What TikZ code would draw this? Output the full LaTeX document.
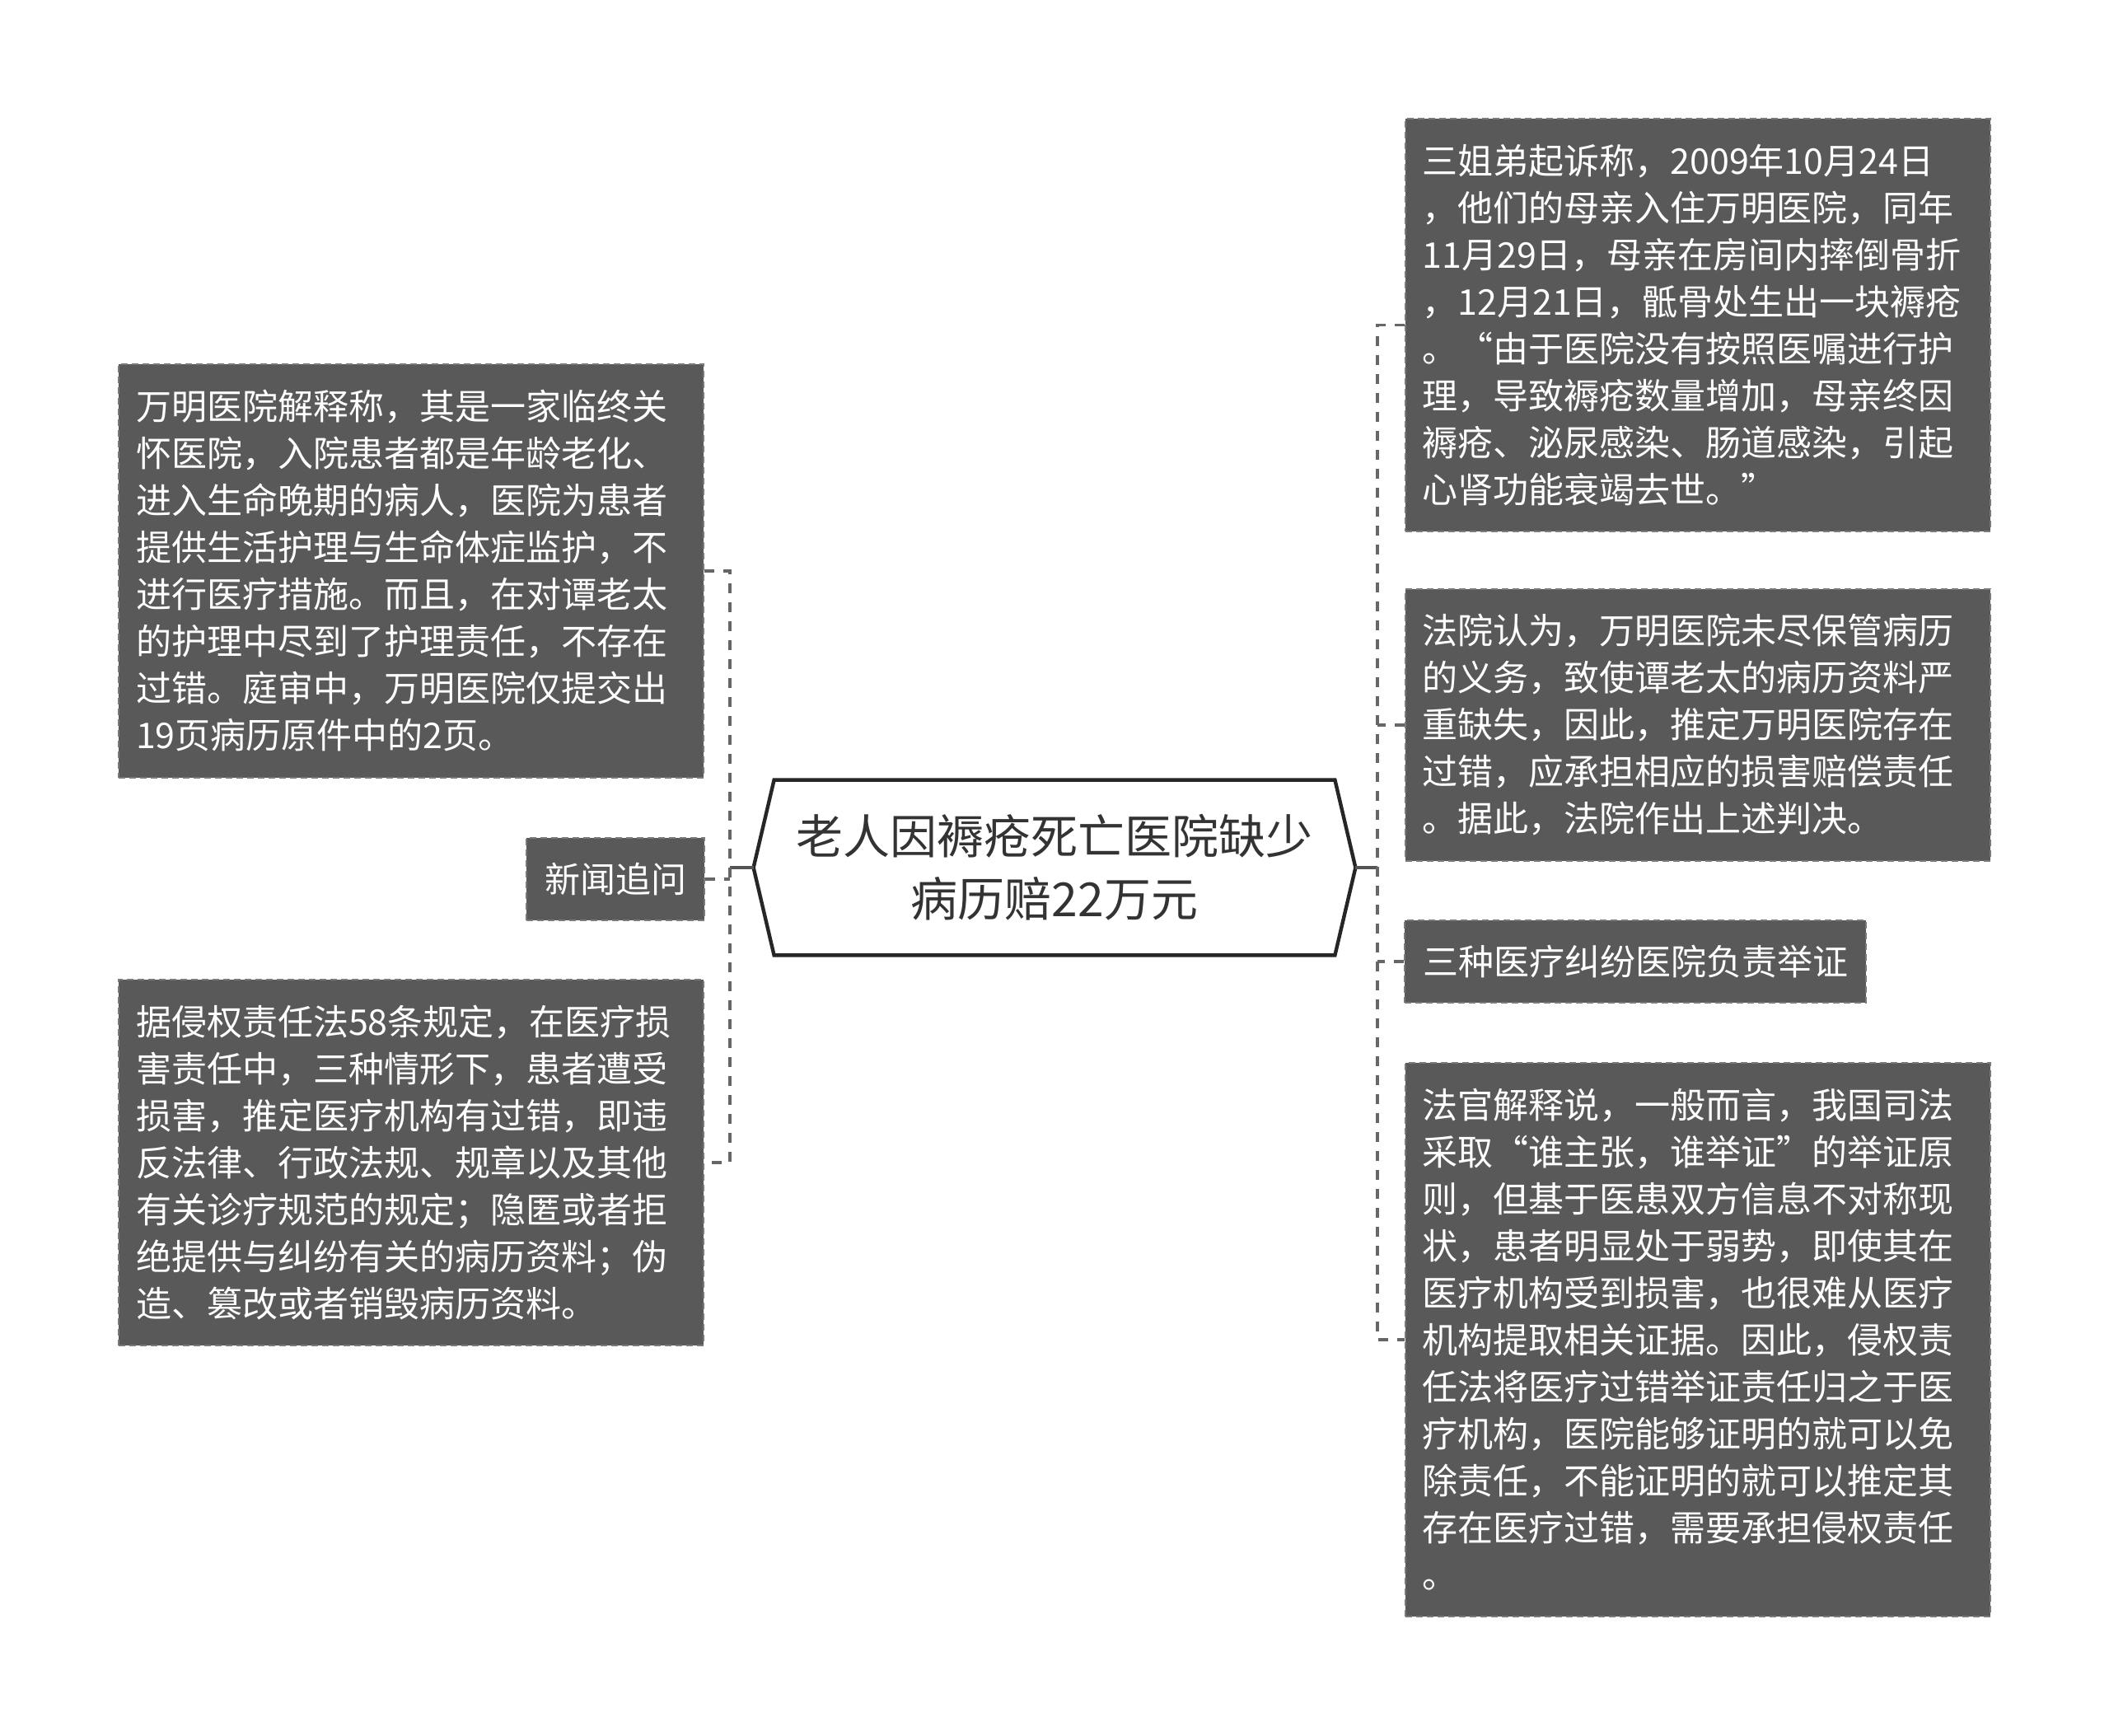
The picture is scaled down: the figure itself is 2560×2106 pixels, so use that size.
\documentclass[tikz,border=0pt]{standalone}
\usepackage{fontspec}
\setmainfont{Noto Sans CJK SC}
\newfontfamily\cjkfw[RawFeature=+fwid]{Noto Sans CJK SC}
\newcommand{\qL}{{\cjkfw “}}
\newcommand{\qR}{{\cjkfw ”}}
\definecolor{boxfill}{HTML}{595959}
\definecolor{boxborder}{HTML}{7A7A7A}
\definecolor{connc}{HTML}{666666}
\definecolor{rootc}{HTML}{555555}
\definecolor{hexc}{HTML}{262626}
\definecolor{titlec}{HTML}{333333}
\begin{document}
\begin{tikzpicture}[x=0.5pt,y=-0.5pt,
  leaf/.style={fill=boxfill, draw=boxborder, line width=1pt, dash pattern=on 4pt off 2.5pt,
    text=white, font=\fontsize{21.5pt}{28.5pt}\selectfont, inner sep=10.5pt},
  bigleaf/.style={leaf, minimum width=355pt, text width=334pt, align=left},
  conn/.style={draw=connc, line width=1.6pt, dash pattern=on 6pt off 5.5pt},
  rootln/.style={draw=rootc, line width=1.6pt},
]
\fill[white] (0,0) rectangle (2560,2106);
\useasboundingbox (0,0) rectangle (2560,2106);

% root
\node[font=\fontsize{28.5pt}{38pt}\selectfont, text=titlec, align=center,
      minimum width=365pt, minimum height=106pt, inner sep=0pt] (root) at (1280,1053)
  {老人因褥疮死亡医院缺少\\病历赔22万元};
\draw[line width=2.2pt, draw=hexc, line join=miter]
  (root.west) -- ([xshift=12.5pt]root.north west) -- ([xshift=-12.5pt]root.north east)
  -- (root.east) -- ([xshift=-12.5pt]root.south east) -- ([xshift=12.5pt]root.south west) -- cycle;

% left children
\node[bigleaf, minimum height=251pt] (L1) at (499,693)
  {万明医院解释称，其是一家临终关\\怀医院，入院患者都是年龄老化、\\进入生命晚期的病人，医院为患者\\提供生活护理与生命体症监护，不\\进行医疗措施。而且，在对谭老太\\的护理中尽到了护理责任，不存在\\过错。庭审中，万明医院仅提交出\\19页病历原件中的2页。};
\node[leaf, minimum width=108pt, minimum height=50pt] (L0) at (747,1067) {新闻追问};
\node[bigleaf, minimum height=222pt] (L2) at (499,1411)
  {据侵权责任法58条规定，在医疗损\\害责任中，三种情形下，患者遭受\\损害，推定医疗机构有过错，即违\\反法律、行政法规、规章以及其他\\有关诊疗规范的规定；隐匿或者拒\\绝提供与纠纷有关的病历资料；伪\\造、篡改或者销毁病历资料。};

% right children
\node[bigleaf, minimum height=250.5pt] (R1) at (2060.5,394.5)
  {三姐弟起诉称，2009年10月24日\\，他们的母亲入住万明医院，同年\\11月29日，母亲在房间内摔倒骨折\\，12月21日，骶骨处生出一块褥疮\\。\qL 由于医院没有按照医嘱进行护\\理，导致褥疮数量增加，母亲终因\\褥疮、泌尿感染、肠道感染，引起\\心肾功能衰竭去世。\qR};
\node[bigleaf, minimum height=165pt] (R2) at (2060.5,880)
  {法院认为，万明医院未尽保管病历\\的义务，致使谭老太的病历资料严\\重缺失，因此，推定万明医院存在\\过错，应承担相应的损害赔偿责任\\。据此，法院作出上述判决。};
\node[leaf, minimum width=280pt, minimum height=50pt] (R3) at (1985,1167) {三种医疗纠纷医院负责举证};
\node[bigleaf, minimum height=336pt] (R4) at (2060.5,1626)
  {法官解释说，一般而言，我国司法\\采取\qL 谁主张，谁举证\qR 的举证原\\则，但基于医患双方信息不对称现\\状，患者明显处于弱势，即使其在\\医疗机构受到损害，也很难从医疗\\机构提取相关证据。因此，侵权责\\任法将医疗过错举证责任归之于医\\疗机构，医院能够证明的就可以免\\除责任，不能证明的就可以推定其\\存在医疗过错，需要承担侵权责任\\。};

% connectors
\coordinate (lbus) at (886,1053);
\coordinate (rbus) at (1672,1053);
\draw[rootln] (root.west) -- (lbus);
\draw[rootln] (root.east) -- (rbus);
\draw[conn] (L1.east) -- (L1.east -| lbus) -- (L2.east -| lbus) -- (L2.east);
\draw[conn] (L0.east) -- (L0.east -| lbus);
\draw[conn] (R1.west) -- (R1.west -| rbus) -- (R4.west -| rbus) -- (R4.west);
\draw[conn] (R2.west) -- (R2.west -| rbus);
\draw[conn] (R3.west) -- (R3.west -| rbus);
\end{tikzpicture}
\end{document}
